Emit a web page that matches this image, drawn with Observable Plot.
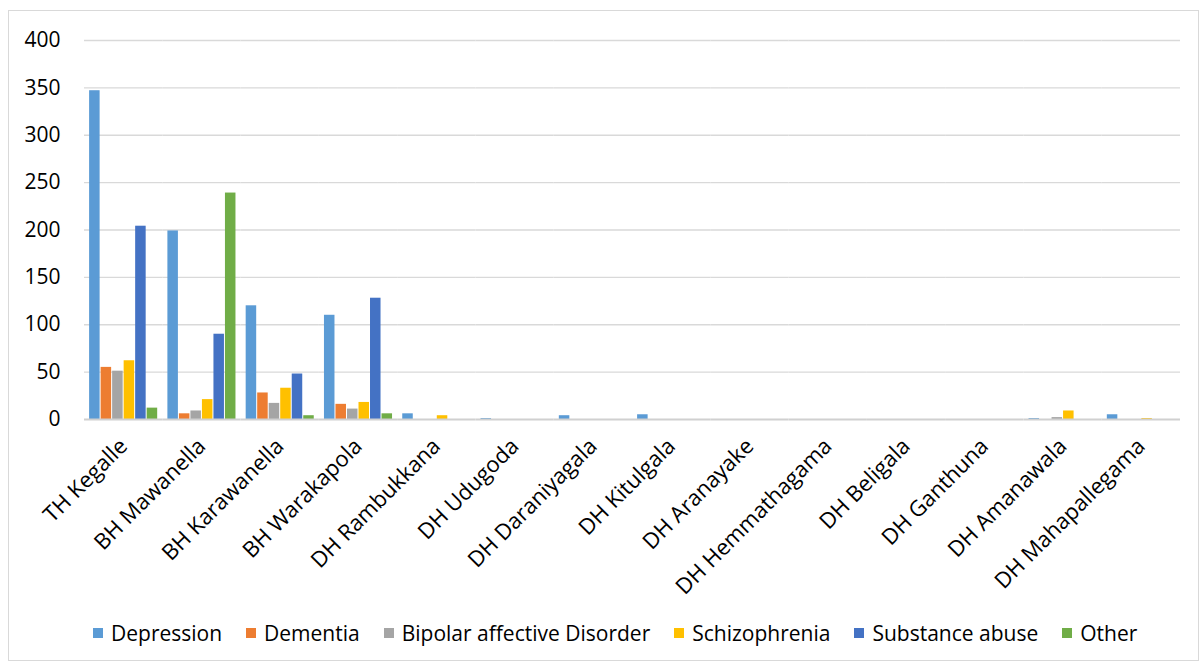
<!DOCTYPE html>
<html><head><meta charset="utf-8">
<script src="https://cdn.jsdelivr.net/npm/d3@7"></script>
<script src="https://cdn.jsdelivr.net/npm/@observablehq/plot@0.6"></script>
<style>
body{margin:0;background:#fff;font-family:"Open Sans",sans-serif;}
#frame{position:absolute;left:8px;top:10px;width:1191px;height:651px;border:1px solid #d9d9d9;box-sizing:border-box;}
#chart{position:absolute;left:0;top:0;}
#chart svg g[aria-label="fx-axis tick label"] text, #chart svg g[aria-label="fx-axis"] text{font-size:22px;}
#legend{position:absolute;left:93px;top:619px;display:flex;align-items:center;gap:24px;font-size:21px;color:#000;white-space:nowrap;}
#legend .item{display:flex;align-items:center;gap:8px;}
#legend .sw{width:10px;height:10px;display:inline-block;}
</style></head>
<body>
<div id="frame"></div>
<div id="chart"></div>
<div id="legend"></div>
<script>
const categories = ["TH Kegalle","BH Mawanella","BH Karawanella","BH Warakapola","DH Rambukkana","DH Udugoda","DH Daraniyagala","DH Kitulgala","DH Aranayake","DH Hemmathagama","DH Beligala","DH Ganthuna","DH Amanawala","DH Mahapallegama"];
const series = ["Depression","Dementia","Bipolar affective Disorder","Schizophrenia","Substance abuse","Other"];
const colors = ["#5b9bd5","#ed7d31","#a5a5a5","#ffc000","#4472c4","#70ad47"];
const depression    = [347,199,120,110,6,1,4,5,0,0,0,0,1,5];
const dementia      = [55,6,28,16,0,0,0,0,0,0,0,0,0,0];
const bipolar       = [51,9,17,11,0,0,0,0,0,0,0,0,2,0];
const schizophrenia = [62,21,33,18,4,0,0,0,0,0,0,0,9,1];
const substanceAbuse= [204,90,48,128,0,0,0,0,0,0,0,0,0,0];
const other         = [12,239,4,6,0,0,0,0,0,0,0,0,0,0];
const yTicks = [0,50,100,150,200,250,300,350,400];

const values = [depression, dementia, bipolar, schizophrenia, substanceAbuse, other];
const data = categories.flatMap((c,i)=>series.map((s,j)=>({category:c, series:s, value:values[j][i]})));

const chart = Plot.plot({
  width:1204, height:600, marginTop:40, marginBottom:181, marginLeft:84, marginRight:24,
  style:{fontFamily:'"Open Sans", sans-serif', fontSize:"21px", color:"#000", background:"transparent", overflow:"visible"},
  fx:{domain:categories, padding:0, paddingInner:0, paddingOuter:0, round:false, label:null, axis:"bottom", tickRotate:-45, tickSize:0, tickPadding:23},
  x:{domain:series, axis:null, paddingInner:0, paddingOuter:0.4, round:false},
  y:{domain:[0,400], ticks:yTicks, tickSize:0, tickPadding:24, label:null},
  color:{domain:series, range:colors},
  facet:{data, x:"category"},
  marks:[
    Plot.ruleY(yTicks.filter(d=>d>0), {stroke:"#d9d9d9", strokeWidth:1.3}),
    Plot.barY(data, {x:"series", y:"value", fill:"series", insetLeft:0.5, insetRight:0.5}),
    Plot.ruleY([0], {stroke:"#d0d0d0", strokeWidth:2})
  ]
});
document.getElementById("chart").appendChild(chart);

const legend = document.getElementById("legend");
series.forEach((s,i)=>{
  const it = document.createElement("div"); it.className="item";
  const sw = document.createElement("span"); sw.className="sw"; sw.style.background=colors[i];
  const tx = document.createElement("span"); tx.textContent=s;
  it.appendChild(sw); it.appendChild(tx); legend.appendChild(it);
});
</script>
</body></html>
